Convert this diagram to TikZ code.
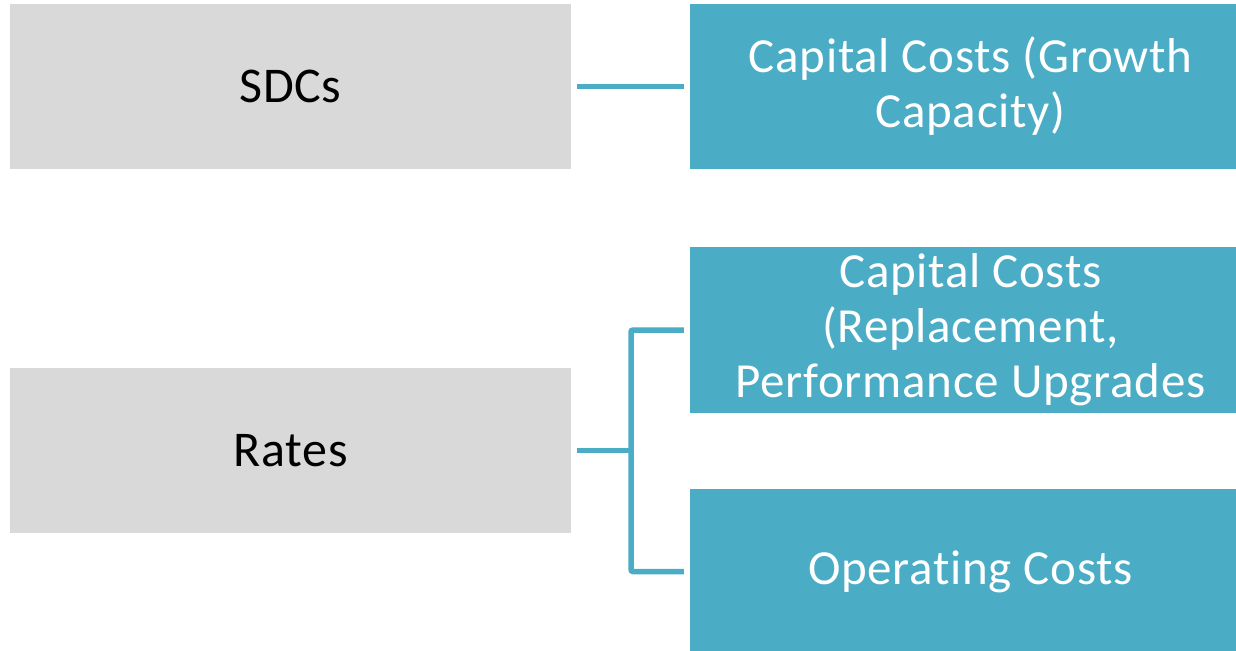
\documentclass[tikz,border=0pt]{standalone}
\usepackage{fontspec}
\setmainfont[Ligatures=NoCommon, LetterSpace=1.5]{Carlito}
\definecolor{boxgray}{HTML}{D9D9D9}
\definecolor{teal}{HTML}{4BACC6}
\begin{document}
\begin{tikzpicture}[x=1bp,y=-1bp,
  graybox/.style={fill=boxgray, draw=none, minimum width=561bp, minimum height=165bp, inner sep=0pt,
    text=black, align=center, font=\fontsize{50bp}{55bp}\selectfont},
  tealbox/.style={fill=teal, draw=none, minimum width=561bp, minimum height=165bp, inner sep=0pt,
    text=white, align=center, font=\fontsize{49bp}{55bp}\selectfont},
  conn/.style={draw=teal, line width=5.5bp}]
\useasboundingbox (0,0) rectangle (1236,651);
\fill[white] (0,0) rectangle (1236,651);
\begin{scope}
\clip (0,0) rectangle (1236,651);
\node[graybox] (sdc) at (290.5,86.5) {SDCs};
\node[graybox] (rates) at (290.5,450.5) {Rates};
\node[tealbox] (cg) at (970.5,86.5) {Capital Costs (Growth\\Capacity)};
\node[tealbox] (cr) at (970.5,330) {Capital Costs\\(Replacement,\\Performance Upgrades};
\node[tealbox] (oc) at (970.5,571.5) {Operating Costs};
\coordinate (fork) at (631,450.5);
\draw[conn] ([xshift=6bp]sdc.east) -- ([xshift=-6bp]cg.west);
\draw[conn] ([xshift=6bp]rates.east) -- (fork);
\draw[conn, rounded corners=2bp] ([xshift=-6bp]cr.west) -| (fork) |- ([xshift=-6bp]oc.west);
\end{scope}
\end{tikzpicture}
\end{document}
